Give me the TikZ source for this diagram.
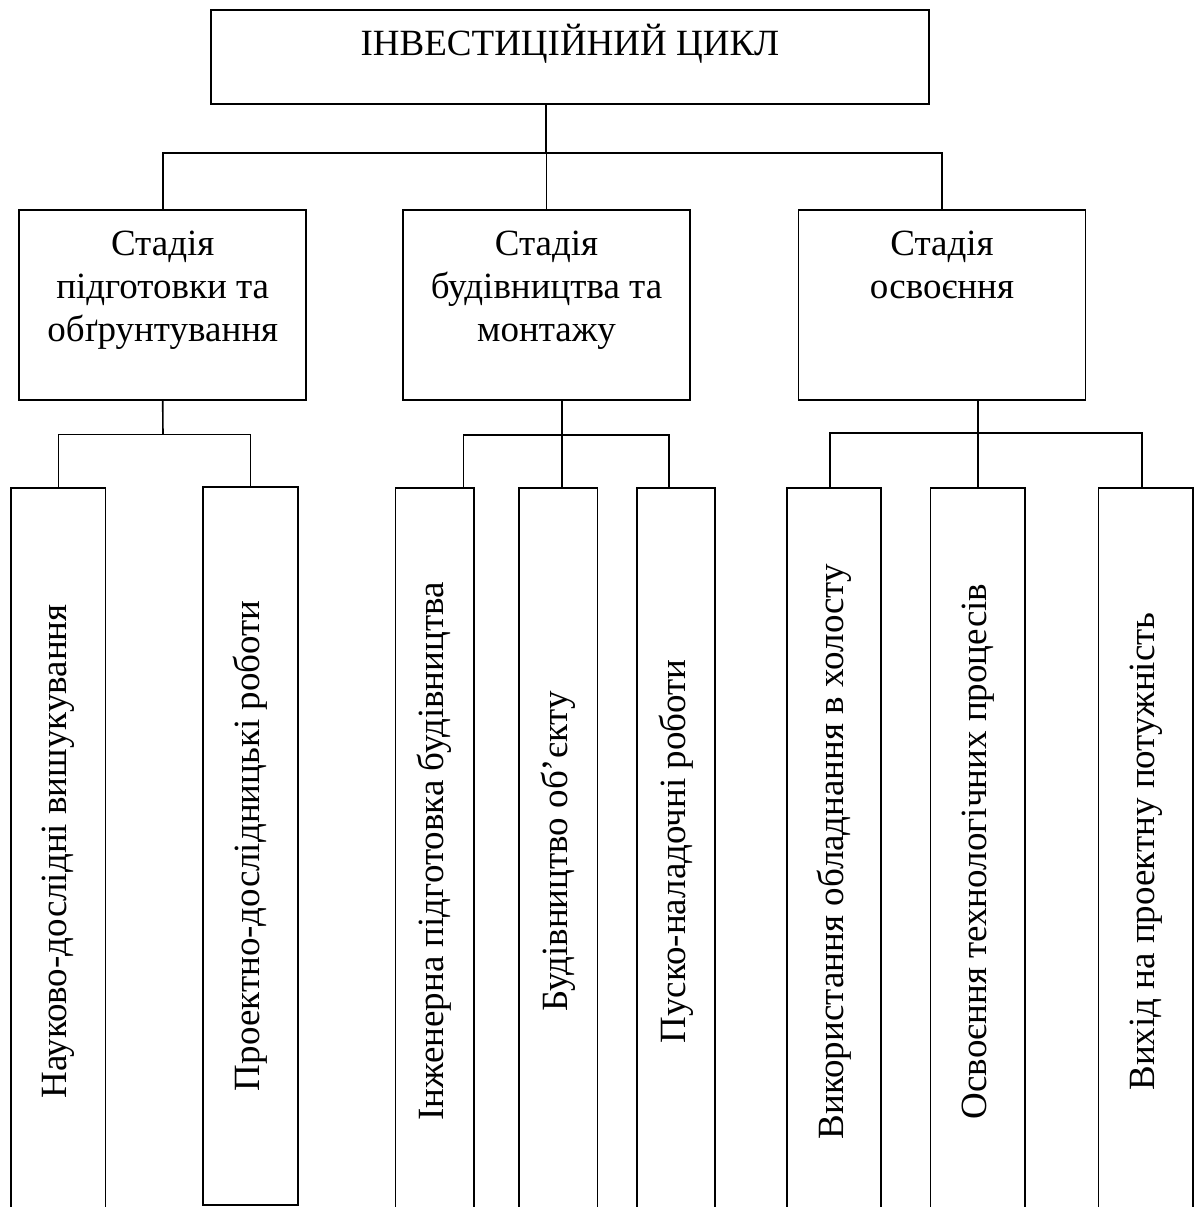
\documentclass[tikz,border=0pt]{standalone}
\usepackage{fontspec}
\setmainfont{Liberation Serif}
\usetikzlibrary{calc}

\tikzset{
	box/.style={draw, line width=1.6pt, inner sep=0pt},
	stagebox/.style={box, minimum width=287pt, minimum height=190pt},
	workbox/.style={box, rotate=90},
}
\newcommand{\boxtext}[3]{\parbox[c][#1pt][t]{#2pt}{\centering\rule{0pt}{45pt}#3}}

\begin{document}
\begin{tikzpicture}[x=1pt,y=-1pt,font=\fontsize{37pt}{43pt}\selectfont]

	\useasboundingbox (0,0) rectangle (1199,1207);

	\node[box,minimum width=718pt,minimum height=94pt] (cycle)	at (570,57)	{\boxtext{94}{718}{ІНВЕСТИЦІЙНИЙ ЦИКЛ}};

	\node[stagebox] (prep)		at (162.7,305)	{\boxtext{190}{287}{Стадія\\підготовки та\\обґрунтування}};
	\node[stagebox] (build)		at (546.5,305)	{\boxtext{190}{287}{Стадія\\будівництва та\\монтажу}};
	\node[stagebox] (mastery)	at (942,305)	{\boxtext{190}{287}{Стадія\\освоєння}};

	\node[workbox,minimum width=727pt,minimum height=94.5pt] (research)	at (58.4,851.5)		{Науково-дослідні вишукування};
	\node[workbox,minimum width=718pt,minimum height=94.5pt] (design)	at (250.5,845.7)	{Проектно-дослідницькі роботи};

	\node[workbox,minimum width=727pt,minimum height=78.5pt] (engprep)		at (434.6,851.5)	{Інженерна підготовка будівництва};
	\node[workbox,minimum width=727pt,minimum height=78.5pt] (construct)	at (558.4,851.5)	{Будівництво об’єкту};
	\node[workbox,minimum width=727pt,minimum height=78.5pt] (commission)	at (676,851.5)		{Пуско-наладочні роботи};

	\node[workbox,minimum width=727pt,minimum height=94.5pt] (idle)		at (834,851.5)		{Використання обладнання в холосту};
	\node[workbox,minimum width=727pt,minimum height=94.5pt] (techproc)	at (977.8,851.5)	{Освоєння технологічних процесів};
	\node[workbox,minimum width=727pt,minimum height=94.5pt] (capacity)	at (1145.9,851.5)	{Вихід на проектну потужність};

	\coordinate (mainbus)		at (546,153);
	\coordinate (prepbus)		at (163,434.5);
	\coordinate (buildbus)		at (562,435);
	\coordinate (masterybus)	at (978,433);

	\begin{scope}[line width=1.6pt]
		\draw (cycle.south -| mainbus) -- (mainbus);
		\draw (prep) |- (mainbus) -| (mastery);
		\draw (build.north) -- (build.north |- mainbus);

		\draw (prep.south) -- (prepbus);
		\draw (research) |- (prepbus) -| (design);

		\draw (build.south -| buildbus) -- (construct.east -| buildbus);
		\draw ([xshift=29pt]engprep.east) |- (buildbus) -| ([xshift=-7pt]commission.east);

		\draw (mastery.south -| masterybus) -- (techproc.east -| masterybus);
		\draw ([xshift=-4pt]idle.east) |- (masterybus) -| ([xshift=-4pt]capacity.east);
	\end{scope}

\end{tikzpicture}
\end{document}
